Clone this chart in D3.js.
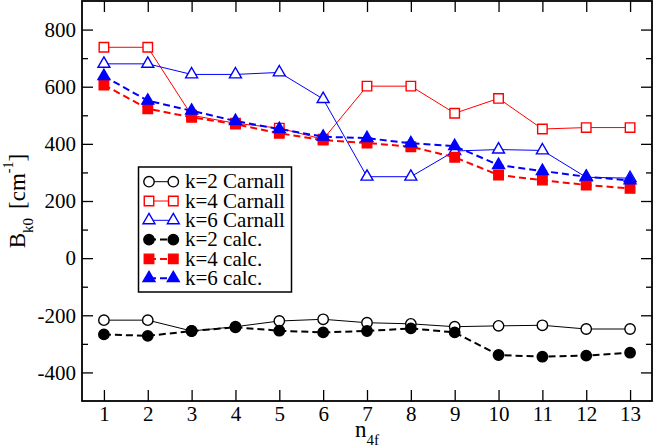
<!DOCTYPE html>
<html>
<head>
<meta charset="utf-8">
<script src="https://cdn.jsdelivr.net/npm/d3@7"></script>
<style>
  body { margin: 0; background: #fff; }
  svg { display: block; }
  svg text { font-family: "Liberation Serif", "DejaVu Serif", "Times New Roman", serif; }
</style>
</head>
<body>
<svg width="654" height="448"></svg>
<script>
// Data
const nValues   = [1, 2, 3, 4, 5, 6, 7, 8, 9, 10, 11, 12, 13];
const k2Carnall = [-217, -217, -255, -240, -220, -214, -226, -230, -240, -237, -235, -248, -248];
const k4Carnall = [738, 738, 500, 472, 455, 416, 602, 602, 507, 559, 452, 457, 457];
const k6Carnall = [680, 680, 643, 643, 650, 557, 285, 285, 375, 380, 377, 283, 280];
const k2Calc    = [-267, -272, -255, -242, -254, -260, -255, -246, -260, -339, -345, -341, -331];
const k4Calc    = [606, 523, 493, 469, 437, 413, 403, 390, 353, 291, 273, 256, 244];
const k6Calc    = [637, 551, 516, 480, 452, 425, 420, 402, 392, 326, 305, 285, 272];
const yMajorTicks = [-400, -200, 0, 200, 400, 600, 800];
const yMinorTicks = [-300, -100, 100, 300, 500, 700];
const legendLabels = ["k=2 Carnall", "k=4 Carnall", "k=6 Carnall", "k=2 calc.", "k=4 calc.", "k=6 calc."];

const svg = d3.select("svg"),
      margin = {top: 1, right: 2, bottom: 47, left: 82},
      width = +svg.attr("width") - margin.left - margin.right,
      height = +svg.attr("height") - margin.top - margin.bottom;

const g = svg.append("g")
    .attr("transform", `translate(${margin.left},${margin.top})`);

const x = d3.scaleLinear().domain([0.5, 13.5]).range([0, width]);
const y = d3.scaleLinear().domain([-500, 900]).range([height, 0]);

const series = [
    {values: k2Carnall, color: "#000", dashed: false, symbol: d3.symbolCircle,   size: 85, filled: false},
    {values: k4Carnall, color: "#f00", dashed: false, symbol: d3.symbolSquare,   size: 90, filled: false},
    {values: k6Carnall, color: "#00f", dashed: false, symbol: d3.symbolTriangle, size: 62, filled: false},
    {values: k2Calc,    color: "#000", dashed: true,  symbol: d3.symbolCircle,   size: 85, filled: true},
    {values: k4Calc,    color: "#f00", dashed: true,  symbol: d3.symbolSquare,   size: 90, filled: true},
    {values: k6Calc,    color: "#00f", dashed: true,  symbol: d3.symbolTriangle, size: 62, filled: true}
];
series.forEach((s, i) => s.name = legendLabels[i]);

const line = d3.line()
    .x(d => x(d.n))
    .y(d => y(d.v));

// Draw lines and symbols, set by set
series.forEach(s => {
    const pts = nValues.map((n, i) => ({n: n, v: s.values[i]}));
    const sg = g.append("g");

    sg.append("path")
        .datum(pts)
        .attr("fill", "none")
        .attr("stroke", s.color)
        .attr("stroke-width", s.dashed ? 2 : 1)
        .attr("stroke-dasharray", s.dashed ? "7,4" : null)
        .attr("d", line);

    sg.selectAll("path.sym")
        .data(pts)
        .enter().append("path")
        .attr("class", "sym")
        .attr("transform", d => `translate(${x(d.n)},${y(d.v)})`)
        .attr("d", d3.symbol(s.symbol, s.size))
        .attr("fill", s.filled ? s.color : "#fff")
        .attr("stroke", s.color)
        .attr("stroke-width", 1.4);
});

// Axes with inward ticks on all four sides
function styleAxis(sel) {
    sel.select(".domain").remove();
    sel.selectAll("line").attr("stroke", "#000").attr("stroke-width", 1.3);
    sel.attr("font-family", null).attr("font-size", 21);
    sel.selectAll("text").attr("fill", "#000");
}

g.append("g")
    .attr("transform", `translate(0,${height})`)
    .call(d3.axisBottom(x).tickValues(nValues).tickSizeInner(-11).tickSizeOuter(0).tickPadding(5))
    .call(styleAxis);

g.append("g")
    .call(d3.axisTop(x).tickValues(nValues).tickSizeInner(-11).tickSizeOuter(0).tickFormat(""))
    .call(styleAxis);

g.append("g")
    .call(d3.axisLeft(y).tickValues(yMajorTicks).tickSizeInner(-11).tickSizeOuter(0).tickPadding(6)
        .tickFormat(d => String(d)))
    .call(styleAxis);

g.append("g")
    .call(d3.axisLeft(y).tickValues(yMinorTicks).tickSizeInner(-6).tickSizeOuter(0).tickFormat(""))
    .call(styleAxis);

g.append("g")
    .attr("transform", `translate(${width},0)`)
    .call(d3.axisRight(y).tickValues(yMajorTicks).tickSizeInner(-11).tickSizeOuter(0).tickFormat(""))
    .call(styleAxis);

g.append("g")
    .attr("transform", `translate(${width},0)`)
    .call(d3.axisRight(y).tickValues(yMinorTicks).tickSizeInner(-6).tickSizeOuter(0).tickFormat(""))
    .call(styleAxis);

// Frame
g.append("rect")
    .attr("width", width)
    .attr("height", height)
    .attr("fill", "none")
    .attr("stroke", "#000")
    .attr("stroke-width", 1.8);

// Axis titles
const xt = svg.append("text")
    .attr("x", margin.left + width / 2)
    .attr("y", 437)
    .attr("text-anchor", "middle")
    .attr("font-size", 23);
xt.append("tspan").text("n");
xt.append("tspan").attr("font-size", 15).attr("dy", 8).text("4f");

const yt = svg.append("text")
    .attr("transform", `translate(25,${margin.top + height / 2}) rotate(-90)`)
    .attr("text-anchor", "middle")
    .attr("font-size", 23);
yt.append("tspan").text("B");
yt.append("tspan").attr("font-size", 15).attr("dy", 8).text("k0");
yt.append("tspan").attr("dy", -8).attr("dx", 9).text("[cm");
yt.append("tspan").attr("font-size", 14).attr("dy", -12).text("-1");
yt.append("tspan").attr("dy", 12).text("]");

// Legend
const legend = svg.append("g")
    .attr("transform", "translate(138.5,167)");

legend.append("rect")
    .attr("width", 153)
    .attr("height", 125)
    .attr("fill", "#fff")
    .attr("stroke", "#000")
    .attr("stroke-width", 1.5);

const item = legend.selectAll(".item")
    .data(series)
    .enter().append("g")
    .attr("class", "item")
    .attr("transform", (d, i) => `translate(0,${14.7 + i * 19.3})`);

item.append("line")
    .attr("x1", 10.5).attr("x2", 34.8)
    .attr("stroke", d => d.color)
    .attr("stroke-width", d => d.dashed ? 2 : 1)
    .attr("stroke-dasharray", d => d.dashed ? "7,4" : null);

[10.5, 34.8].forEach(px => {
    item.append("path")
        .attr("transform", `translate(${px},0)`)
        .attr("d", d => d3.symbol(d.symbol, d.size)())
        .attr("fill", d => d.filled ? d.color : "#fff")
        .attr("stroke", d => d.color)
        .attr("stroke-width", 1.4);
});

item.append("text")
    .attr("x", 46.5)
    .attr("y", 6.7)
    .attr("font-size", 21)
    .text(d => d.name);
</script>
</body>
</html>
